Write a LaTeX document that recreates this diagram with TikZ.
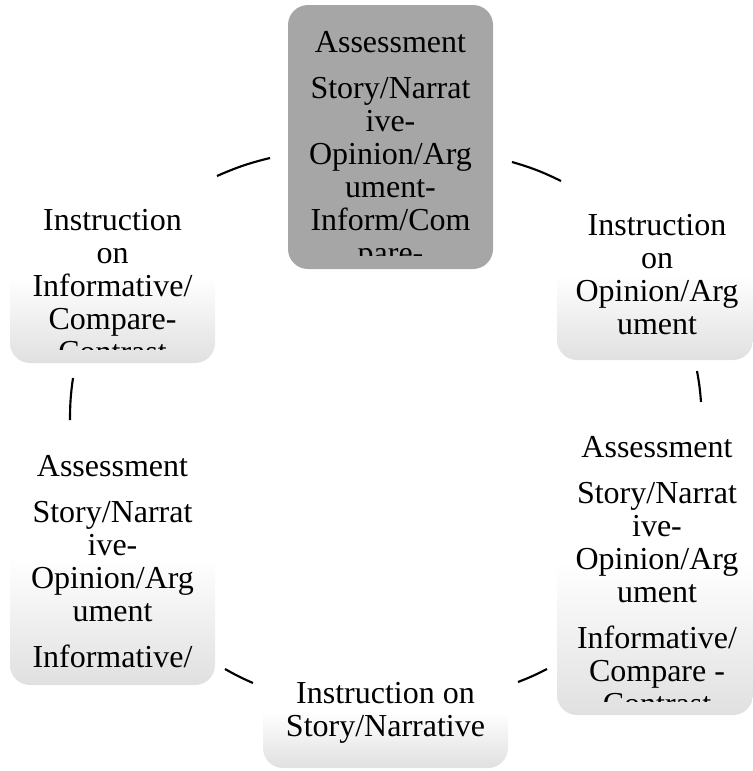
\documentclass[tikz,border=0pt]{standalone}
\usepackage{fontspec}
\setmainfont{Liberation Serif}
\usetikzlibrary{positioning}

\definecolor{assessgray}{RGB}{166,166,166}
\definecolor{fadegray}{RGB}{224,224,224}

\begin{document}
\begin{tikzpicture}[
  x=0.75pt, y=-0.75pt,
  font=\fontsize{24}{24.75}\selectfont,
  graybox/.style={rounded corners=15pt, fill=assessgray, inner sep=0pt},
  fadebox/.style={rounded corners=15pt, top color=white, bottom color=fadegray, middle color=white, inner sep=0pt},
  txt/.style={align=center, inner sep=0pt, anchor=base},
  cycle arc/.style={line width=1.6pt, bend left=#1}
]
\useasboundingbox (0,0) rectangle (753,771);

% Boxes round the cycle (clockwise from the top)
\node[graybox, minimum width=153.75pt, minimum height=198pt] (assessTop) at (390.5,137) {};
\node[fadebox, minimum width=147pt, minimum height=127.5pt] (instrOpinion) at (655,275) {};
\node[fadebox, minimum width=147pt, minimum height=228.75pt] (assessRight) at (655,562.5) {};
\node[fadebox, minimum width=183.75pt, minimum height=84pt] (instrStory) at (385.5,712) {};
\node[fadebox, minimum width=153.75pt, minimum height=191.25pt] (assessLeft) at (112.5,557.5) {};
\node[fadebox, minimum width=153.75pt, minimum height=129.75pt] (instrInform) at (112.5,276.5) {};

% Arc pieces between the boxes
\coordinate (a1) at (512,162); \coordinate (b1) at (561,181);
\coordinate (a2) at (697,371); \coordinate (b2) at (701,402);
\coordinate (a3) at (547,669); \coordinate (b3) at (518,682);
\coordinate (a4) at (253,683); \coordinate (b4) at (225,669);
\coordinate (a5) at (70,420);  \coordinate (b5) at (73,378);
\coordinate (a6) at (217,176); \coordinate (b6) at (270,158);
\draw[cycle arc=5] (a1) to (b1);
\draw[cycle arc=3] (a2) to (b2);
\draw[cycle arc=3] (a3) to (b3);
\draw[cycle arc=3] (a4) to (b4);
\draw[cycle arc=4] (a5) to (b5);
\draw[cycle arc=5] (a6) to (b6);

% Texts (the long ones run out of their box and are cut)
% (base of a text = base of its last line)
\begin{scope}
  \clip (assessTop.north west) rectangle ([yshift=10.5pt]assessTop.south east);
  \node[txt] (assessTopTxt) at (390.5,263) {Assessment\\[9.75pt]Story/Narrat\\ive-\\Opinion/Arg\\ument-\\Inform/Com\\pare-};
\end{scope}
\node[txt] (instrOpinionTxt) at (657,334) {Instruction\\on\\Opinion/Arg\\ument};
\begin{scope}
  \clip (assessRight.north west) rectangle ([yshift=10.5pt]assessRight.south east);
  \node[txt] (assessRightTxt) at (657,714) {Assessment\\[9.75pt]Story/Narrat\\ive-\\Opinion/Arg\\ument\\[9.75pt]Informative/\\Compare -\\Contrast};
\end{scope}
\node[txt] (instrStoryTxt) at (385.5,736) {Instruction on\\Story/Narrative};
\begin{scope}
  \clip (assessLeft.north west) rectangle ([yshift=10.5pt]assessLeft.south east);
  \node[txt] (assessLeftTxt) at (112.5,700) {Assessment\\[9.75pt]Story/Narrat\\ive-\\Opinion/Arg\\ument\\[9.75pt]Informative/\\Compare -};
\end{scope}
\begin{scope}
  \clip (instrInform.north west) rectangle ([yshift=10.5pt]instrInform.south east);
  \node[txt] (instrInformTxt) at (112.5,362) {Instruction\\on\\Informative/\\Compare-\\Contrast};
\end{scope}

\end{tikzpicture}
\end{document}
